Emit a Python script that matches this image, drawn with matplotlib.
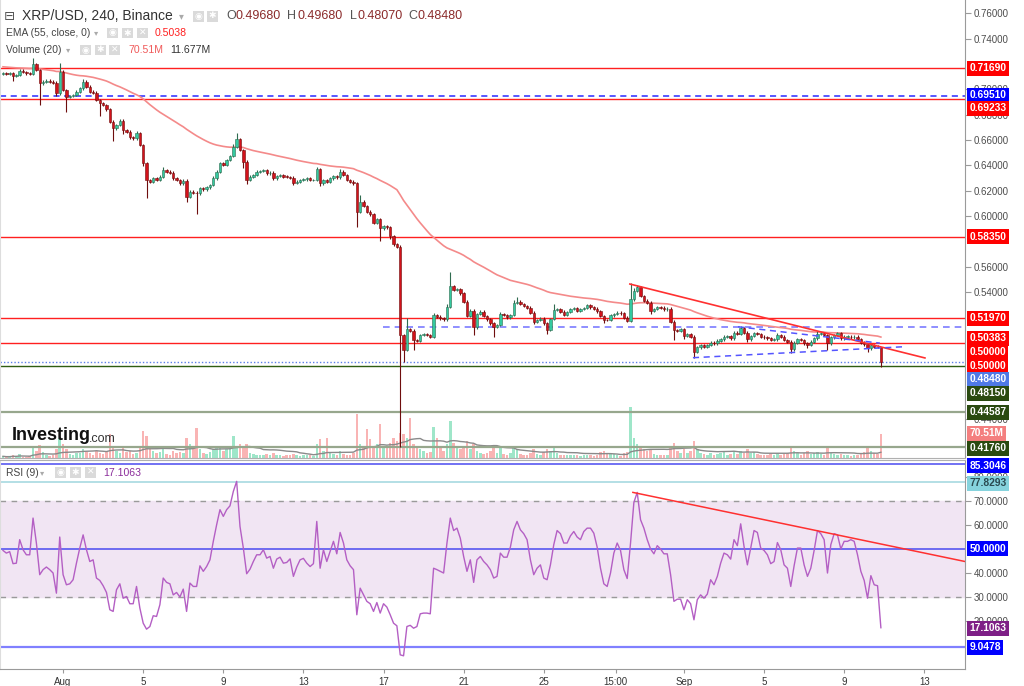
import numpy as np
import pandas as pd
import matplotlib
matplotlib.use('Agg')
import matplotlib.pyplot as plt
from matplotlib.patches import Rectangle

plt.rcParams['font.family'] = ['Liberation Sans', 'DejaVu Sans']

# ---- data (4H candles, XRP/USD) ----
first_open = 0.7120
closes = [
    0.7127, 0.7122, 0.7127, 0.7106, 0.7114, 0.7148, 0.7137, 0.7127, 0.7122, 0.7201,
    0.7153, 0.7048, 0.7061, 0.7069, 0.7061, 0.7053, 0.6969, 0.7140, 0.6996, 0.6943,
    0.6948, 0.6956, 0.6982, 0.7009, 0.7061, 0.7022, 0.6982, 0.6974, 0.6917, 0.6890,
    0.6877, 0.6843, 0.6746, 0.6693, 0.6719, 0.6754, 0.6680, 0.6667, 0.6622, 0.6614,
    0.6654, 0.6562, 0.6417, 0.6286, 0.6273, 0.6299, 0.6286, 0.6312, 0.6365, 0.6351,
    0.6344, 0.6299, 0.6286, 0.6259, 0.6280, 0.6154, 0.6194, 0.6186, 0.6181, 0.6220,
    0.6212, 0.6228, 0.6246, 0.6299, 0.6351, 0.6417, 0.6404, 0.6443, 0.6475, 0.6549,
    0.6606, 0.6522, 0.6430, 0.6286, 0.6312, 0.6325, 0.6351, 0.6357, 0.6365, 0.6338,
    0.6344, 0.6299, 0.6317, 0.6325, 0.6312, 0.6310, 0.6305, 0.6264, 0.6272, 0.6285,
    0.6291, 0.6298, 0.6285, 0.6285, 0.6370, 0.6259, 0.6285, 0.6272, 0.6298, 0.6317,
    0.6306, 0.6351, 0.6325, 0.6285, 0.6272, 0.6259, 0.6036, 0.6115, 0.6080, 0.6036,
    0.6015, 0.5949, 0.5975, 0.5904, 0.5923, 0.5912, 0.5844, 0.5778, 0.5760, 0.5063,
    0.4944, 0.5107, 0.5097, 0.5023, 0.5015, 0.5063, 0.5070, 0.5063, 0.5050, 0.5220,
    0.5207, 0.5194, 0.5186, 0.5286, 0.5449, 0.5418, 0.5423, 0.5391, 0.5326, 0.5213,
    0.5255, 0.5123, 0.5228, 0.5247, 0.5213, 0.5186, 0.5155, 0.5128, 0.5142, 0.5228,
    0.5220, 0.5202, 0.5220, 0.5318, 0.5326, 0.5307, 0.5292, 0.5278, 0.5239, 0.5168,
    0.5181, 0.5192, 0.5155, 0.5102, 0.5189, 0.5260, 0.5265, 0.5247, 0.5223, 0.5244,
    0.5268, 0.5273, 0.5252, 0.5268, 0.5276, 0.5297, 0.5281, 0.5270, 0.5249, 0.5213,
    0.5181, 0.5180, 0.5218, 0.5228, 0.5239, 0.5234, 0.5199, 0.5173, 0.5344, 0.5412,
    0.5439, 0.5370, 0.5334, 0.5318, 0.5252, 0.5268, 0.5281, 0.5278, 0.5265, 0.5270,
    0.5168, 0.5102, 0.5097, 0.5108, 0.5055, 0.5071, 0.5050, 0.4932, 0.4966, 0.4984,
    0.4971, 0.4984, 0.5002, 0.4997, 0.5018, 0.5029, 0.5050, 0.5055, 0.5037, 0.5082,
    0.5071, 0.5116, 0.5082, 0.5029, 0.5055, 0.5076, 0.5071, 0.5050, 0.5045, 0.5037,
    0.5024, 0.5029, 0.5060, 0.5050, 0.5024, 0.5010, 0.4950, 0.5002, 0.5029, 0.5024,
    0.4997, 0.4984, 0.5010, 0.5037, 0.5071, 0.5076, 0.5063, 0.4997, 0.5045, 0.5063,
    0.5076, 0.5037, 0.5050, 0.5050, 0.5045, 0.5050, 0.5029, 0.5002, 0.4989, 0.4958,
    0.4984, 0.4971, 0.4968, 0.4848,
]
# wick lengths above / below the body, in thousandths of a dollar
upper_wick = [
    1, 1, 1, 1, 1, 1, 1, 1, 1, 5,   1, 1, 1, 1, 1, 1, 1, 7, 1, 1,
    1, 1, 1, 1, 2, 1, 1, 1, 1, 1,   1, 1, 1, 1, 1, 1, 1, 1, 1, 1,
    2, 1, 1, 1, 1, 1, 1, 1, 2, 1,   1, 1, 1, 1, 1, 1, 1, 1, 1, 1,
    1, 1, 1, 2, 1, 1, 1, 1, 1, 2,   5, 1, 1, 1, 1, 1, 1, 1, 1, 1,
    1, 1, 1, 1, 1, 1, 1, 1, 1, 1,   1, 1, 1, 1, 2, 1, 1, 1, 1, 1,
    1, 2, 1, 1, 1, 1, 1, 5, 1, 1,   1, 1, 1, 1, 1, 1, 1, 1, 1, 1,
    1, 9, 1, 1, 1, 1, 1, 1, 1, 2,   1, 1, 1, 2, 11, 1, 1, 1, 1, 1,
    1, 1, 1, 1, 1, 1, 1, 1, 1, 2,   1, 1, 1, 2, 4, 1, 1, 1, 1, 1,
    1, 1, 1, 1, 1, 5, 1, 1, 1, 1,   1, 1, 1, 1, 1, 1, 1, 1, 1, 1,
    1, 1, 1, 1, 1, 1, 1, 1, 13, 2,  2, 1, 1, 1, 1, 1, 1, 1, 1, 1,
    1, 1, 1, 1, 1, 1, 1, 1, 1, 1,   1, 1, 1, 1, 1, 1, 1, 1, 1, 1,
    1, 2, 1, 1, 1, 1, 1, 1, 1, 1,   1, 1, 2, 1, 1, 1, 1, 1, 1, 1,
    1, 1, 1, 1, 2, 1, 1, 1, 1, 1,   1, 1, 1, 1, 1, 1, 1, 1, 1, 1,
    1, 1, 1, 0,
]
lower_wick = [
    1, 1, 1, 4, 1, 1, 1, 1, 1, 1,   1, 17, 1, 1, 1, 1, 2, 1, 1, 12,
    1, 1, 1, 1, 1, 1, 1, 1, 1, 10,  1, 1, 1, 10, 1, 1, 3, 1, 1, 1,
    1, 1, 2, 14, 1, 1, 1, 1, 1, 1,  1, 1, 1, 1, 1, 4, 1, 1, 16, 1,
    1, 1, 1, 1, 1, 1, 1, 1, 1, 1,   1, 1, 5, 3, 1, 1, 1, 1, 1, 1,
    1, 1, 1, 1, 1, 1, 1, 2, 1, 1,   1, 1, 1, 1, 1, 2, 1, 1, 1, 1,
    1, 1, 1, 1, 1, 1, 12, 1, 1, 1,  1, 1, 1, 10, 1, 1, 2, 1, 1, 88.7,
    9, 1, 1, 8, 1, 1, 1, 1, 1, 1,   1, 1, 1, 1, 1, 1, 1, 1, 1, 1,
    1, 6, 1, 1, 1, 1, 1, 8, 1, 1,   1, 1, 1, 1, 1, 1, 1, 1, 1, 2,
    1, 1, 1, 3, 1, 1, 1, 1, 1, 1,   1, 1, 1, 1, 1, 1, 1, 1, 1, 1,
    2, 1, 1, 1, 1, 1, 1, 1, 1, 1,   1, 1, 1, 1, 2, 1, 1, 1, 1, 1,
    1, 8, 1, 1, 2, 1, 1, 5, 1, 1,   1, 1, 1, 1, 1, 1, 1, 1, 1, 1,
    1, 1, 1, 2, 1, 1, 1, 1, 1, 1,   1, 1, 1, 1, 1, 1, 3, 1, 1, 1,
    1, 2, 1, 1, 1, 1, 1, 5, 1, 1,   1, 1, 1, 1, 1, 1, 1, 1, 1, 3,
    1, 1, 1, 4.1,
]
volume_m = [
    5, 3, 4, 8, 4, 12, 4, 3, 5, 35,      22, 38, 18, 8, 6, 10, 25, 59, 42, 25,
    12, 10, 14, 16, 25, 18, 14, 10, 20, 16,  12, 18, 70, 35, 20, 15, 28, 18, 22, 12,
    16, 30, 79, 65, 25, 20, 15, 18, 30, 12,  10, 22, 15, 18, 14, 60, 40, 30, 88, 25,
    15, 12, 18, 25, 30, 35, 20, 25, 28, 65,  30, 42, 30, 42, 15, 12, 10, 8, 10, 12,
    8, 15, 10, 8, 6, 8, 10, 12, 8, 6,        8, 10, 8, 6, 40, 55, 20, 60, 15, 12,
    10, 20, 12, 10, 8, 15, 129, 40, 30, 85,  55, 30, 40, 100, 35, 30, 45, 60, 50, 74,
    70, 60, 118, 40, 30, 25, 20, 15, 18, 90, 60, 30, 20, 40, 110, 45, 30, 25, 35, 50,
    25, 40, 20, 15, 12, 15, 20, 30, 15, 35,  12, 10, 15, 30, 25, 12, 10, 8, 15, 25,
    12, 10, 18, 25, 20, 30, 15, 10, 8, 10,   10, 8, 8, 6, 8, 10, 8, 6, 10, 18,
    20, 12, 15, 12, 8, 6, 15, 18, 150, 60,   40, 30, 25, 20, 25, 12, 10, 8, 8, 10,
    35, 45, 20, 15, 25, 15, 20, 50, 25, 15,  12, 10, 15, 10, 12, 15, 18, 10, 12, 20,
    12, 20, 15, 25, 15, 18, 12, 10, 8, 10,   12, 10, 15, 10, 12, 15, 35, 20, 15, 10,
    15, 20, 12, 15, 18, 12, 10, 30, 15, 12,  10, 12, 8, 8, 6, 8, 10, 15, 18, 28,
    20, 15, 12, 70.51,
]
rsi = [
    49.3, 48.2, 48.8, 43.8, 44.0, 53.8, 49.6, 47.5, 47.5, 62.8,
    52.4, 39.2, 41.3, 42.4, 41.3, 39.9, 31.5, 54.9, 39.2, 35.0,
    35.4, 37.1, 44.0, 50.3, 55.8, 49.6, 44.7, 45.4, 37.8, 36.8,
    34.6, 31.8, 24.6, 23.9, 32.9, 35.4, 29.4, 30.1, 27.1, 27.1,
    34.3, 25.3, 19.0, 16.5, 17.6, 22.1, 21.8, 26.7, 37.8, 36.0,
    35.4, 30.8, 31.8, 29.9, 33.2, 23.9, 35.7, 34.3, 34.3, 42.9,
    40.6, 42.6, 45.4, 53.1, 60.0, 66.3, 63.5, 66.3, 67.9, 73.9,
    78.1, 59.3, 50.3, 39.6, 41.5, 44.7, 47.5, 47.5, 49.6, 46.1,
    46.8, 41.9, 45.7, 46.5, 44.0, 44.3, 45.8, 38.5, 42.4, 45.4,
    46.0, 44.0, 42.6, 43.8, 61.4, 41.9, 49.6, 44.7, 48.9, 53.1,
    47.9, 56.8, 52.4, 45.4, 42.9, 41.3, 22.5, 33.6, 30.8, 28.1,
    27.1, 23.9, 27.6, 23.2, 27.1, 25.7, 22.5, 19.0, 17.9, 5.8,
    5.4, 17.6, 18.1, 16.9, 17.6, 22.9, 23.2, 23.2, 22.9, 41.9,
    41.3, 40.6, 39.9, 52.4, 62.8, 57.6, 58.6, 54.4, 46.8, 40.6,
    45.4, 36.0, 45.4, 46.8, 44.7, 43.3, 41.3, 37.8, 38.5, 48.2,
    46.5, 46.5, 50.7, 57.9, 61.4, 57.9, 56.3, 53.8, 45.4, 39.2,
    41.9, 43.3, 37.8, 37.1, 43.3, 51.7, 57.6, 56.3, 52.4, 52.4,
    55.4, 57.2, 54.9, 53.8, 57.2, 58.6, 58.6, 56.5, 50.7, 41.9,
    35.4, 34.3, 39.9, 48.2, 52.4, 49.3, 41.3, 37.6, 52.4, 69.3,
    73.5, 62.1, 58.6, 53.8, 49.9, 47.9, 51.3, 49.9, 47.9, 47.9,
    39.2, 28.1, 29.0, 29.0, 24.6, 28.8, 27.1, 20.4, 28.8, 30.8,
    29.4, 31.1, 37.1, 35.0, 38.5, 44.0, 48.2, 47.5, 45.7, 53.8,
    51.3, 60.4, 51.0, 43.3, 50.3, 57.6, 56.8, 50.3, 49.3, 47.5,
    43.8, 44.7, 52.6, 49.6, 43.3, 41.9, 34.3, 42.9, 50.3, 50.3,
    43.3, 38.5, 41.9, 49.3, 57.6, 56.3, 53.8, 39.9, 51.7, 56.3,
    55.8, 49.9, 53.1, 53.1, 53.8, 53.1, 47.5, 40.6, 36.8, 29.4,
    38.8, 35.0, 34.6, 17.1,
]
ema_seed = 0.718      # EMA(55) level at the left edge
ema_len = 55

hline_red = [0.7169, 0.69233, 0.5835, 0.5197, 0.5000]
hline_blue = 0.6951
hline_blue2 = 0.5128       # starts after the crash
hline_last = 0.4848
hline_green = 0.4815
hline_olive = [0.44587, 0.4176]

trend_price = ([187.8, 276.2], [0.5465, 0.4882])
tri_upper = ([220.2, 262.7], [0.5128, 0.4999])
tri_lower = ([206.7, 270.2], [0.4884, 0.4971])
trend_rsi = ([188.7, 288.2], [73.5, 44.7])

rsi_levels = {'top': 85.3046, 'hi': 77.8293, 'mid': 50.0, 'low': 9.0478}

# axis ticks that are not hidden behind the value tags
price_ticks = [0.44, 0.54, 0.56, 0.60, 0.62, 0.64, 0.66, 0.68, 0.70, 0.74, 0.76]
rsi_ticks = [20, 30, 40, 60, 70, 80]
tick_pos = [18, 42, 66, 90, 114, 138, 162, 183.5, 204, 228, 252, 276]
tick_lab = ['Aug', '5', '9', '13', '17', '21', '25', '15:00', 'Sep', '5', '9', '13']

# ---- derived series ----
closes = np.array(closes)
n = len(closes)
idx = np.arange(n)
opens = np.r_[first_open, closes[:-1]]
body_lo = np.minimum(opens, closes)
body_hi = np.maximum(opens, closes)
highs = body_hi + np.array(upper_wick) / 1000
lows = body_lo - np.array(lower_wick) / 1000
up = closes >= opens

alpha = 2 / (ema_len + 1)
ema = []
e = ema_seed
for c in closes:
    e = e + alpha * (c - e)
    ema.append(e)

vol = pd.Series(volume_m)
vol_ma = vol.rolling(20, min_periods=1).mean()

# ---- figure ----
W, H = 1024, 686
fig = plt.figure(figsize=(W / 100, H / 100), dpi=100, facecolor='white')

def fx(px):
    return px / W

def fy(py):
    return 1 - py / H

right = fx(965)
ax = fig.add_axes([0, fy(458), right, 458 / H])
axv = fig.add_axes([0, fy(458), right, 458 / H], sharex=ax)
ax_rsi = fig.add_axes([0, fy(669), right, (669 - 460) / H], sharex=ax)

ax.set_zorder(3)
ax.patch.set_visible(False)
axv.set_zorder(2)
axv.axis('off')

xlim = (-0.9, 288.2)
ax.set_xlim(*xlim)
ax.set_ylim(0.4093, 0.7705)

# horizontal levels
for lv in hline_red:
    ax.axhline(lv, color='#ff2020', lw=1.0, zorder=1)
ax.axhline(hline_blue, color='#2a2aff', lw=1.1, ls=(0, (4, 3)), zorder=1)
ax.hlines(hline_blue2, 113.8, xlim[1], color='#7b7bff', lw=1.2, ls=(0, (4, 3)), zorder=1)
ax.axhline(hline_last, color='#5a7fe8', lw=1.0, ls=(0, (1, 1.5)), zorder=1)
ax.axhline(hline_green, color='#2e5d12', lw=1.0, zorder=1)
for lv in hline_olive:
    ax.axhline(lv, color='#97a78d', lw=1.6, zorder=1)

# EMA
ax.plot(idx, ema, color='#f48a8a', lw=1.2, zorder=2)

# candles
wick_up, wick_dn = '#2f6b4f', '#6e0d0d'
ax.vlines(idx[up], lows[up], highs[up], color=wick_up, lw=0.8, zorder=3)
ax.vlines(idx[~up], lows[~up], highs[~up], color=wick_dn, lw=0.8, zorder=3)
bh = np.maximum(body_hi - body_lo, 0.0004)
ax.bar(idx[up], bh[up], bottom=body_lo[up], width=0.72, color='#34c9a0',
       edgecolor=wick_up, lw=0.4, zorder=4)
ax.bar(idx[~up], bh[~up], bottom=body_lo[~up], width=0.72, color='#d3121b',
       edgecolor=wick_dn, lw=0.4, zorder=4)

# trend lines
ax.plot(*trend_price, color='#ff3030', lw=1.2, zorder=5)
ax.plot(*tri_upper, color='#5555ff', lw=1.1, ls=(0, (4, 3)), zorder=5)
ax.plot(*tri_lower, color='#5555ff', lw=1.1, ls=(0, (4, 3)), zorder=5)

# volume
vcol = np.where(up, '#9fe6c9', '#f9b4b4')
axv.bar(idx, vol, width=0.75, color=vcol, zorder=1)
axv.plot(idx, vol_ma, color='#8a8a8a', lw=1.0, zorder=2)
axv.set_ylim(0, 458 * 2.94)

# price axis styling
ax.spines['top'].set_visible(False)
ax.spines['left'].set_color('#dddddd')
ax.spines['right'].set_color('#9a9a9a')
ax.spines['bottom'].set_color('#b0b0b0')
ax.yaxis.tick_right()
ax.set_yticks(price_ticks)
ax.yaxis.set_major_formatter(matplotlib.ticker.FormatStrFormatter('%.5f'))
ax.tick_params(axis='y', length=4, width=0.8, color='#9a9a9a', labelsize=7,
               labelcolor='#4d4d4d', pad=2)
ax.tick_params(axis='x', bottom=False, labelbottom=False)

# RSI panel
ax_rsi.set_ylim(-0.1, 87.0)
ax_rsi.axhspan(30, 70, color='#f1e5f3', zorder=0)
ax_rsi.axhline(70, color='#9a9a9a', lw=1.0, ls=(0, (4, 4)), zorder=1)
ax_rsi.axhline(30, color='#9a9a9a', lw=1.0, ls=(0, (4, 4)), zorder=1)
ax_rsi.axhline(rsi_levels['top'], color='#4a4af0', lw=1.1, zorder=1)
ax_rsi.axhline(rsi_levels['hi'], color='#9fd6de', lw=1.1, zorder=1)
ax_rsi.axhline(rsi_levels['mid'], color='#4a4af0', lw=1.1, zorder=1)
ax_rsi.axhline(rsi_levels['low'], color='#8080ff', lw=1.6, zorder=1)
ax_rsi.plot(idx, rsi, color='#b45fc4', lw=1.0, zorder=3)
ax_rsi.plot(*trend_rsi, color='#ff3030', lw=1.1, zorder=4)

ax_rsi.spines['left'].set_color('#dddddd')
ax_rsi.spines['right'].set_color('#9a9a9a')
ax_rsi.spines['top'].set_color('#b0b0b0')
ax_rsi.spines['bottom'].set_color('#9a9a9a')
ax_rsi.yaxis.tick_right()
ax_rsi.set_yticks(rsi_ticks)
ax_rsi.yaxis.set_major_formatter(matplotlib.ticker.FormatStrFormatter('%.4f'))
ax_rsi.tick_params(axis='y', length=4, width=0.8, color='#9a9a9a', labelsize=7,
                   labelcolor='#4d4d4d', pad=2)
ax_rsi.set_xticks(tick_pos)
ax_rsi.set_xticklabels(tick_lab)
ax_rsi.tick_params(axis='x', length=3, width=0.8, color='#9a9a9a', labelsize=7,
                   labelcolor='#333333', pad=3)
ax_rsi.set_xlim(*xlim)

# ---- right-hand value labels (pixel y of each box) ----
price_tags = [
    ('0.71690', '#ff0000', 68.3), ('0.69510', '#0000ff', 95.0),
    ('0.69233', '#ff0000', 108.3), ('0.58350', '#ff0000', 236.7),
    ('0.51970', '#ff0000', 318.3), ('0.50383', '#ff0000', 338.3),
    ('0.50000', '#ff0000', 352.3), ('0.50000', '#ff0000', 365.7),
    ('0.48480', '#4f79e6', 379.3), ('0.48150', '#2a4a10', 393.3),
    ('0.44587', '#2a4a10', 412.3), ('70.51M', '#f47f7f', 433.3),
    ('0.41760', '#2a4a10', 448.3),
]
rsi_tags = [
    ('85.3046', '#0000ff', 465.7, 'white'), ('77.8293', '#86d3dd', 483.3, '#2a4a50'),
    ('50.0000', '#0000ff', 548.7, 'white'), ('17.1063', '#7e1f86', 628.3, 'white'),
    ('9.0478', '#0000ff', 647.3, 'white'),
]
for txt, col, py in price_tags:
    fig.text(fx(969.5), fy(py), txt, color='white', fontsize=7.4, fontweight='bold',
             va='center', ha='left', zorder=10,
             bbox=dict(boxstyle='square,pad=0.22', fc=col, ec='none'))
for txt, col, py, tc in rsi_tags:
    fig.text(fx(969.5), fy(py), txt, color=tc, fontsize=7.4, fontweight='bold',
             va='center', ha='left', zorder=10,
             bbox=dict(boxstyle='square,pad=0.22', fc=col, ec='none'))

# ---- header texts ----
def icon_boxes(xs, py, size=10.5, glyphs=None):
    for k, x0 in enumerate(xs):
        fig.patches.append(Rectangle((fx(x0), fy(py + size / 2)), size / W, size / H,
                                     transform=fig.transFigure, fc='#dadada',
                                     ec='none', zorder=5))
        if glyphs:
            fig.text(fx(x0 + size / 2), fy(py), glyphs[k], fontsize=6.5, color='white',
                     ha='center', va='center', family='DejaVu Sans', zorder=6)

y1 = 16
fig.text(fx(4), fy(y1), '\u229f', fontsize=9.5, color='#555555', va='center',
         family='DejaVu Sans')
fig.text(fx(22), fy(y1), 'XRP/USD, 240, Binance', fontsize=10, color='#333333', va='center')
fig.text(fx(179), fy(y1), '\u25be', fontsize=7, color='#aaaaaa', va='center',
         family='DejaVu Sans')
icon_boxes([193, 207], y1, 11, ['\u25c9', '\u2731'])
ohlc = [('O', 226, '0.49680', 236), ('H', 287, '0.49680', 297),
        ('L', 350, '0.48070', 358), ('C', 408, '0.48480', 418)]
for lab, lx, val, vx in ohlc:
    fig.text(fx(lx), fy(y1), lab, fontsize=9, color='#555555', va='center')
    fig.text(fx(vx), fy(y1), val, fontsize=9, color='#8b2a2a', va='center')

y2 = 33
fig.text(fx(6), fy(y2), 'EMA (55, close, 0)', fontsize=7.4, color='#444444', va='center')
fig.text(fx(94), fy(y2), '\u25be', fontsize=6, color='#aaaaaa', va='center',
         family='DejaVu Sans')
icon_boxes([107, 122, 137], y2, glyphs=['\u25c9', '\u2731', '\u2715'])
fig.text(fx(155), fy(y2), '0.5038', fontsize=7.6, color='#ff2020', va='center')

y3 = 50
fig.text(fx(6), fy(y3), 'Volume (20)', fontsize=7.4, color='#444444', va='center')
fig.text(fx(66), fy(y3), '\u25be', fontsize=6, color='#aaaaaa', va='center',
         family='DejaVu Sans')
icon_boxes([80, 95, 109], y3, glyphs=['\u25c9', '\u2731', '\u2715'])
fig.text(fx(128), fy(y3), '70.51M', fontsize=7.6, color='#f05a5a', va='center')
fig.text(fx(170), fy(y3), '11.677M', fontsize=7.6, color='#333333', va='center')

y4 = 472.5
fig.text(fx(6), fy(y4), 'RSI (9)', fontsize=7.4, color='#444444', va='center')
fig.text(fx(40), fy(y4), '\u25be', fontsize=6, color='#aaaaaa', va='center',
         family='DejaVu Sans')
icon_boxes([55, 70, 85], y4, glyphs=['\u25c9', '\u2731', '\u2715'])
fig.text(fx(103), fy(y4), '17.1063', fontsize=7.6, color='#8b2d9b', va='center')

# watermark
fig.text(fx(12), fy(436), 'Investing', fontsize=13, fontweight='bold', color='#111111',
         va='center', zorder=6)
fig.text(fx(89), fy(439), '.com', fontsize=9, color='#333333', va='center', zorder=6)

fig.savefig('out.png', dpi=100, facecolor='white')
